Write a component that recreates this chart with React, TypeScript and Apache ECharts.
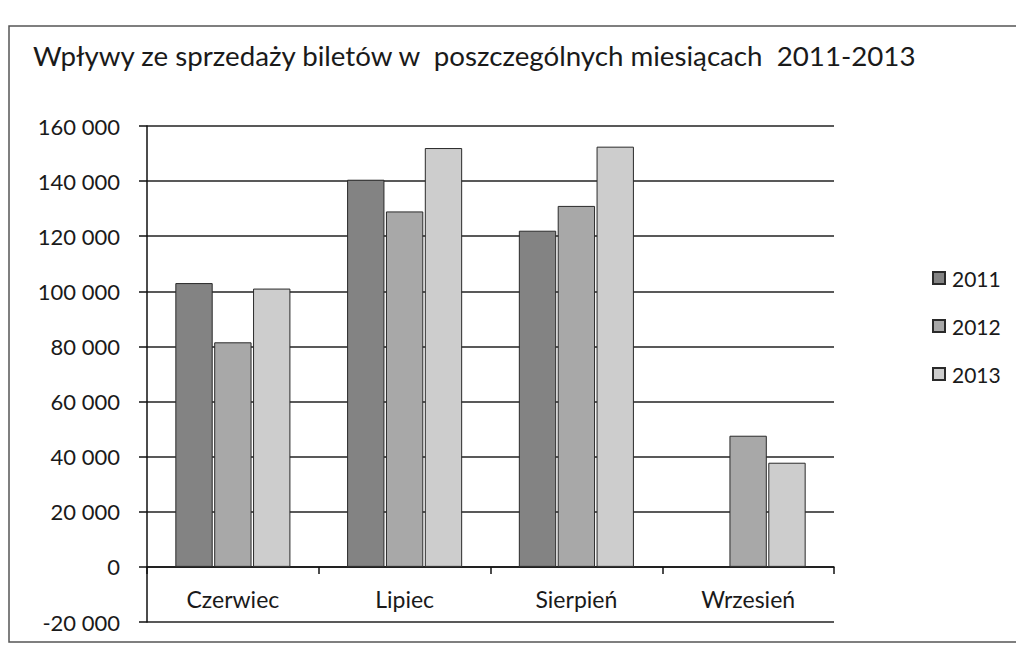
import React, { useEffect, useRef } from "react";
import * as echarts from "echarts";

const TITLE = "Wpływy ze sprzedaży biletów w  poszczególnych miesiącach  2011-2013";
const categories = ["Czerwiec", "Lipiec", "Sierpień", "Wrzesień"];
const seriesNames = ["2011", "2012", "2013"];
const values2011 = [103000, 140500, 122000, null];
const values2012 = [81500, 129000, 131000, 47600];
const values2013 = [101000, 152000, 152500, 37800];
const seriesColors = ["#838383", "#a8a8a8", "#cdcdcd"];
const yMin = -20000;
const yMax = 160000;
const yStep = 20000;

const fmt = (v: number) => {
  const s = String(Math.abs(v)).replace(/\B(?=(\d{3})+(?!\d))/g, " ");
  return (v < 0 ? "-" : "") + s;
};

const GRID_TOP = 126;
const GRID_BOTTOM = 26;
const CHART_H = 648;

export default function App() {
  const ref = useRef<HTMLDivElement>(null);
  useEffect(() => {
    if (!ref.current) return;
    const chart = echarts.init(ref.current, null, { renderer: "svg" });
    const font = "Lato, 'Noto Sans', sans-serif";
    const allValues = [values2011, values2012, values2013];
    const plotH = CHART_H - GRID_TOP - GRID_BOTTOM;
    const zeroOffset = -plotH * (0 - yMin) / (yMax - yMin);
    chart.setOption({
      animation: false,
      backgroundColor: "#ffffff",
      textStyle: { fontFamily: font },
      title: {
        text: TITLE,
        left: 28,
        top: 36,
        textStyle: { fontFamily: font, fontSize: 27.7, fontWeight: "normal", color: "#1a1a1a" },
      },
      legend: {
        orient: "vertical",
        left: 927,
        top: 262,
        itemWidth: 12,
        itemHeight: 12,
        itemGap: 26,
        icon: "rect",
        data: seriesNames,
        textStyle: { fontFamily: font, fontSize: 21, lineHeight: 22, color: "#1a1a1a", padding: [0, 0, 0, 2] },
      },
      grid: { left: 147, right: 182, top: GRID_TOP, bottom: GRID_BOTTOM, containLabel: false },
      xAxis: {
        type: "category",
        data: categories,
        position: "bottom",
        offset: zeroOffset,
        axisLine: { show: true, onZero: false, lineStyle: { color: "#111", width: 1.5 } },
        axisTick: { show: true, length: 7, alignWithLabel: false, lineStyle: { color: "#111", width: 1.5 } },
        axisLabel: { fontFamily: font, fontSize: 23, color: "#1a1a1a", margin: 21 },
        splitLine: { show: false },
      },
      yAxis: {
        type: "value",
        min: yMin,
        max: yMax,
        interval: yStep,
        axisLine: { show: true, lineStyle: { color: "#111", width: 1.5 } },
        axisTick: { show: true, length: 8, lineStyle: { color: "#111", width: 1.5 } },
        axisLabel: { fontFamily: font, fontSize: 22, color: "#1a1a1a", margin: 27, formatter: fmt },
        splitLine: { show: true, lineStyle: { color: "#222", width: 1.5 } },
      },
      series: seriesNames.map((name, i) => ({
        name,
        type: "bar",
        data: allValues[i],
        barGap: "4%",
        barCategoryGap: "33%",
        itemStyle: { color: seriesColors[i], borderColor: "#2a2a2a", borderWidth: 1 },
      })),
      graphic: [
        {
          type: "rect",
          shape: { x: 9, y: 26, width: 1100, height: 616 },
          style: { fill: "none", stroke: "#555", lineWidth: 1.5 },
          silent: true,
          z: 100,
        },
      ],
    });
    return () => chart.dispose();
  }, []);
  return (
    <div
      ref={ref}
      style={{ position: "fixed", left: 0, top: 0, width: 1016, height: CHART_H }}
    />
  );
}
